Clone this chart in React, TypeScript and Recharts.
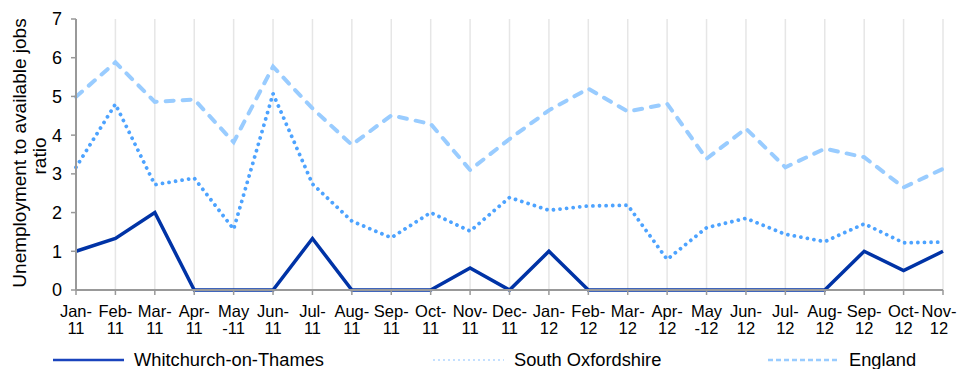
import { LineChart, Line, XAxis, YAxis, CartesianGrid, Legend } from "recharts"

const months = [
  "Jan-11", "Feb-11", "Mar-11", "Apr-11", "May-11", "Jun-11", "Jul-11", "Aug-11",
  "Sep-11", "Oct-11", "Nov-11", "Dec-11", "Jan-12", "Feb-12", "Mar-12", "Apr-12",
  "May-12", "Jun-12", "Jul-12", "Aug-12", "Sep-12", "Oct-12", "Nov-12",
]

const whitchurch = [1, 1.33, 2, 0, 0, 0, 1.33, 0, 0, 0, 0.57, 0, 1, 0, 0, 0, 0, 0, 0, 0, 1, 0.5, 1]
const southOxon = [3.17, 4.8, 2.72, 2.89, 1.57, 5.07, 2.74, 1.78, 1.35, 2.0, 1.52, 2.39, 2.06, 2.17, 2.19, 0.79, 1.61, 1.85, 1.44, 1.25, 1.71, 1.22, 1.24]
const england = [4.99, 5.88, 4.86, 4.92, 3.82, 5.77, 4.69, 3.75, 4.51, 4.29, 3.1, 3.9, 4.64, 5.2, 4.61, 4.81, 3.39, 4.17, 3.17, 3.65, 3.43, 2.65, 3.13]

const yTicks = [0, 1, 2, 3, 4, 5, 6, 7]

const font = "'Liberation Sans', Arial, sans-serif"

const data = months.map((m, i) => ({
  month: m,
  whitchurch: whitchurch[i],
  southOxon: southOxon[i],
  england: england[i],
}))

// Excel wraps "May-11" before the hyphen, the rest after it
function splitLabel(label: string) {
  const [mon, yr] = label.split("-")
  if (mon === "May") return [mon, "-" + yr]
  return [mon + "-", yr]
}

function MonthTick({ x, y, payload, index }: any) {
  const [a, b] = splitLabel(payload.value)
  // last label is nudged in so it stays inside the picture
  const cx = index === months.length - 1 ? x - 4 : x
  return (
    <text x={cx} y={y} textAnchor="middle" fontSize={16.5} fill="#000" fontFamily={font}>
      <tspan x={cx} dy={19.5}>{a}</tspan>
      <tspan x={cx} dy={17}>{b}</tspan>
    </text>
  )
}

function YTitle() {
  return (
    <g fontFamily={font} fontSize={19} fill="#000" textAnchor="middle">
      <text transform="translate(26,153) rotate(-90)">Unemployment to available jobs</text>
      <text transform="translate(46,156) rotate(-90)">ratio</text>
    </g>
  )
}

const legendItems = [
  { name: "Whitchurch-on-Thames", x: 53, stroke: "#1a44bd", width: 2.5, dash: undefined as string | undefined },
  { name: "South Oxfordshire", x: 433, stroke: "#c4e0ff", width: 2, dash: "2 3" },
  { name: "England", x: 768, stroke: "#99ccff", width: 2.5, dash: "5 3" },
]

function ChartLegend() {
  return (
    <svg width={957} height={30}>
      {legendItems.map((it) => (
        <g key={it.name}>
          <line x1={it.x} x2={it.x + 71} y1={21} y2={21} stroke={it.stroke} strokeWidth={it.width} strokeDasharray={it.dash} />
          <text x={it.x + 81} y={27} fontSize={18.3} fontFamily={font} fill="#000">{it.name}</text>
        </g>
      ))}
    </svg>
  )
}

export default function App() {
  return (
    <div style={{ position: "absolute", left: 0, top: 0, background: "#fff" }}>
      <LineChart width={957} height={369} data={data} margin={{ top: 19, right: 14, left: 0, bottom: 0 }}>
        <CartesianGrid horizontal={false} stroke="#e6e6e6" strokeWidth={1.5} />
        <XAxis
          dataKey="month"
          interval={0}
          height={49}
          tick={<MonthTick />}
          tickSize={5}
          axisLine={{ stroke: "#999", strokeWidth: 2 }}
          tickLine={{ stroke: "#999", strokeWidth: 1.5 }}
        />
        <YAxis
          width={76}
          domain={[0, 7]}
          ticks={yTicks}
          interval={0}
          tickSize={5}
          tickMargin={9}
          tick={{ fontSize: 18, fill: "#000", fontFamily: font }}
          axisLine={{ stroke: "#999", strokeWidth: 2 }}
          tickLine={{ stroke: "#999", strokeWidth: 1.5 }}
          label={<YTitle />}
        />
        <Legend verticalAlign="bottom" height={30} content={() => <ChartLegend />} wrapperStyle={{ left: 0, width: 957 }} />
        <Line
          type="linear"
          dataKey="england"
          name="England"
          stroke="#99ccff"
          strokeWidth={4}
          strokeDasharray="8 9"
          strokeLinecap="round"
          dot={false}
          isAnimationActive={false}
        />
        <Line
          type="linear"
          dataKey="southOxon"
          name="South Oxfordshire"
          stroke="#4da3ff"
          strokeWidth={3.8}
          strokeDasharray="0.01 6.6"
          strokeLinecap="round"
          dot={false}
          isAnimationActive={false}
        />
        <Line
          type="linear"
          dataKey="whitchurch"
          name="Whitchurch-on-Thames"
          stroke="#0033a6"
          strokeWidth={3.5}
          dot={false}
          isAnimationActive={false}
        />
      </LineChart>
    </div>
  )
}
